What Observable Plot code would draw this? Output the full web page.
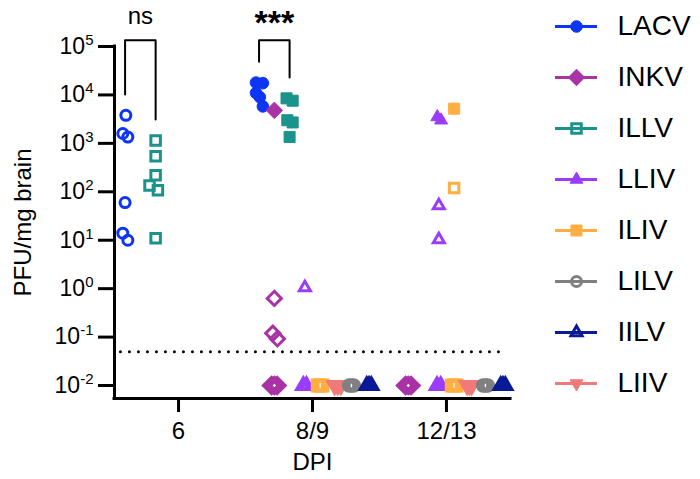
<!DOCTYPE html>
<html><head><meta charset="utf-8">
<script src="https://cdn.jsdelivr.net/npm/d3@7"></script>
<script src="https://cdn.jsdelivr.net/npm/@observablehq/plot@0.6"></script>
<style>
body{margin:0;background:#fff;}
#wrap{position:relative;width:700px;height:479px;background:#fff;}
#main{position:absolute;left:0;top:0;}
#legend{position:absolute;left:540px;top:0;}
</style></head><body><div id="wrap"><div id="main"></div><div id="legend"></div></div>
<script>
// ---------- data ----------
const days = ["6", "8/9", "12/13"];
// order of the data columns inside each day group
const slotOrder = ["LACV", "INKV", "ILLV", "LLIV", "ILIV", "LIIV", "LILV", "IILV"];
const legendOrder = ["LACV", "INKV", "ILLV", "LLIV", "ILIV", "LILV", "IILV", "LIIV"];
const seriesColors = ["#0d35f5", "#a832a6", "#1a938c", "#9a3cfa", "#ffae42", "#f0797a", "#808080", "#0a1a96"]; // slotOrder
const seriesShapes = ["circle", "diamond", "square", "triUp", "square", "triDown", "circle", "triUp"]; // slotOrder
const legendFilled = [true, true, false, true, true, false, false, true]; // legendOrder
const limitOfDetection = 0.05;
const yTickExponents = [-2, -1, 0, 1, 2, 3, 4, 5];
// [day, PFU/mg, filled?, jitter (fraction of a column)]
const LACV = [["6", 3800, 0, 0.05], ["6", 1600, 0, -0.15], ["6", 1350, 0, 0.18], ["6", 60, 0, 0], ["6", 14, 0, -0.15], ["6", 10, 0, 0.18],
  ["8/9", 18000, 1, -0.2], ["8/9", 17500, 1, 0.25], ["8/9", 11000, 1, -0.2], ["8/9", 9000, 1, 0.05], ["8/9", 5800, 1, 0.25]];
const INKV = [["8/9", 4800, 1, 0], ["8/9", 0.63, 0, 0], ["8/9", 0.12, 0, -0.1], ["8/9", 0.092, 0, 0.2],
  ["8/9", 0.01, 0, -0.18], ["8/9", 0.01, 0, 0], ["8/9", 0.01, 0, 0.18],
  ["12/13", 0.01, 0, -0.18], ["12/13", 0.01, 0, 0], ["12/13", 0.01, 0, 0.18]];
const ILLV = [["6", 1150, 0, 0], ["6", 540, 0, 0], ["6", 220, 0, 0], ["6", 135, 0, -0.4], ["6", 108, 0, 0.15], ["6", 11, 0, 0],
  ["8/9", 8500, 1, -0.2], ["8/9", 7600, 1, 0.2], ["8/9", 3000, 1, -0.15], ["8/9", 2700, 1, 0.2], ["8/9", 1350, 1, 0]];
const LLIV = [["8/9", 1.05, 0, 0], ["8/9", 0.01, 0, -0.1], ["8/9", 0.01, 0, 0.1],
  ["12/13", 3500, 1, -0.1], ["12/13", 3000, 1, 0.15], ["12/13", 52, 0, 0], ["12/13", 10.3, 0, 0],
  ["12/13", 0.01, 0, -0.12], ["12/13", 0.01, 0, 0.12]];
const ILIV = [["8/9", 0.01, 0, -0.15], ["8/9", 0.01, 0, 0], ["8/9", 0.01, 0, 0.15],
  ["12/13", 5200, 1, 0], ["12/13", 120, 0, 0], ["12/13", 0.01, 0, -0.15], ["12/13", 0.01, 0, 0], ["12/13", 0.01, 0, 0.15]];
const LIIV = [["8/9", 0.01, 0, -0.05], ["8/9", 0.01, 0, 0.15], ["8/9", 0.01, 0, 0.35],
  ["12/13", 0.01, 0, -0.15], ["12/13", 0.01, 0, 0], ["12/13", 0.01, 0, 0.15]];
const LILV = [["8/9", 0.01, 0, -0.1], ["8/9", 0.01, 0, 0.05], ["8/9", 0.01, 0, 0.2],
  ["12/13", 0.01, 0, -0.1], ["12/13", 0.01, 0, 0.05], ["12/13", 0.01, 0, 0.2]];
const IILV = [["8/9", 0.01, 0, 0.05], ["8/9", 0.01, 0, 0.2], ["8/9", 0.01, 0, 0.35],
  ["12/13", 0.01, 0, 0.05], ["12/13", 0.01, 0, 0.2], ["12/13", 0.01, 0, 0.35]];
const seriesRows = {LACV, INKV, ILLV, LLIV, ILIV, LIIV, LILV, IILV};
const comparisons = [{day: "6", a: "LACV", b: "ILLV", label: "ns"}, {day: "8/9", a: "LACV", b: "ILLV", label: "***"}];

// ---------- layout helpers ----------
const slotW = 0.114;
const xDomain = [-0.478, 2.478];
const yDomain = [Math.pow(10, -2.268), 1e5];
const fontFamily = "'Liberation Sans', Arial, Helvetica, sans-serif";
const colorOf = Object.fromEntries(slotOrder.map((s, i) => [s, seriesColors[i]]));
const shapeOf = Object.fromEntries(slotOrder.map((s, i) => [s, seriesShapes[i]]));
const slotX = (day, s) => days.indexOf(day) + (slotOrder.indexOf(s) - 3.5) * slotW;

function makeSymbol(kind) {
  return {draw(ctx, size) {
    const r = Math.sqrt(size / Math.PI);
    if (kind === "circle") { ctx.moveTo(r, 0); ctx.arc(0, 0, r, 0, 2 * Math.PI); }
    else if (kind === "square") { const h = r * 0.95; ctx.rect(-h, -h, 2 * h, 2 * h); }
    else if (kind === "diamond") { const h = r * 1.42; ctx.moveTo(0, -h); ctx.lineTo(h, 0); ctx.lineTo(0, h); ctx.lineTo(-h, 0); ctx.closePath(); }
    else if (kind === "triUp") { const R = r * 1.28; ctx.moveTo(0, -R); ctx.lineTo(R * 0.866, R / 2); ctx.lineTo(-R * 0.866, R / 2); ctx.closePath(); }
    else if (kind === "triDown") { const R = r * 1.28; ctx.moveTo(0, R); ctx.lineTo(R * 0.866, -R / 2); ctx.lineTo(-R * 0.866, -R / 2); ctx.closePath(); }
  }};
}

const obs = [];
for (const s of slotOrder) {
  for (const [day, v, filled, j] of seriesRows[s]) obs.push({series: s, day, value: v, filled: !!filled, x: slotX(day, s) + j * slotW});
}

const dotMarks = [];
for (const s of slotOrder) {
  const sym = makeSymbol(shapeOf[s]);
  // open markers above the detection limit
  dotMarks.push(Plot.dot(obs.filter(d => d.series === s && !d.filled && d.value >= limitOfDetection), {x: "x", y: "value", symbol: sym, r: 5, fill: "none", stroke: colorOf[s], strokeWidth: 3}));
  // stacked open markers at the floor (below detection limit)
  dotMarks.push(Plot.dot(obs.filter(d => d.series === s && !d.filled && d.value < limitOfDetection), {x: "x", y: "value", symbol: sym, r: 5.2, fill: "none", stroke: colorOf[s], strokeWidth: 4.2}));
  dotMarks.push(Plot.dot(obs.filter(d => d.series === s && d.filled), {x: "x", y: "value", symbol: sym, r: 5.8, fill: colorOf[s], stroke: colorOf[s], strokeWidth: 1}));
}

const bracketTop = yDomain[1] * 1.35;
const maxOf = (day, s) => d3.max(obs.filter(d => d.day === day && d.series === s), d => d.value);
const brackets = comparisons.map(c => ({
  ...c,
  pts: [
    {x: slotX(c.day, c.a), y: maxOf(c.day, c.a) * 2.7},
    {x: slotX(c.day, c.a), y: bracketTop},
    {x: slotX(c.day, c.b), y: bracketTop},
    {x: slotX(c.day, c.b), y: maxOf(c.day, c.b) * 2.7}
  ],
  cx: (slotX(c.day, c.a) + slotX(c.day, c.b)) / 2
}));

const main = Plot.plot({
  width: 700, height: 479,
  marginLeft: 114, marginRight: 190, marginTop: 46, marginBottom: 81,
  x: {domain: xDomain},
  y: {type: "log", domain: yDomain},
  style: {fontFamily, color: "black", background: "transparent", overflow: "visible"},
  marks: [
    Plot.ruleY([limitOfDetection], {x1: -0.43, x2: 2.455, stroke: "black", strokeWidth: 3, strokeDasharray: "0 9", strokeLinecap: "round"}),
    ...dotMarks,
    ...brackets.map(b => Plot.line(b.pts, {x: "x", y: "y", stroke: "black", strokeWidth: 2})),
    Plot.text(brackets.filter(b => b.label === "ns"), {x: "cx", y: () => bracketTop, text: "label", fontSize: 24, dy: -24}),
    Plot.text(brackets.filter(b => b.label !== "ns"), {x: "cx", y: () => bracketTop, text: "label", fontSize: 34, fontWeight: "bold", dy: -17}),
    Plot.ruleX([xDomain[0]], {y1: yDomain[0], y2: yDomain[1], stroke: "black", strokeWidth: 3, strokeLinecap: "square"}),
    Plot.ruleY([yDomain[0]], {x1: xDomain[0], x2: xDomain[1], stroke: "black", strokeWidth: 3, strokeLinecap: "square"}),
    Plot.axisY({ticks: yTickExponents.map(e => Math.pow(10, e)), tickFormat: d => String(Math.round(Math.log10(d))), tickSize: 16, tickPadding: 5, strokeWidth: 3, fontSize: 23, label: null}),
    Plot.axisX({ticks: days.map((d, i) => i), tickFormat: i => days[i], tickSize: 14, tickPadding: 9, strokeWidth: 3, fontSize: 24, label: null}),
    Plot.text(["PFU/mg brain"], {frameAnchor: "left", dx: -91, rotate: -90, textAnchor: "middle", lineAnchor: "middle", fontSize: 24}),
    Plot.text(["DPI"], {frameAnchor: "bottom", dy: 64, textAnchor: "middle", lineAnchor: "middle", fontSize: 24})
  ]
});
d3.select(main).selectAll('g[aria-label="y-axis tick label"] text').each(function () {
  const e = this.textContent;
  const t = d3.select(this);
  t.text(null);
  t.append("tspan").text("10");
  t.append("tspan").attr("dy", -9).attr("font-size", 15).text(e);
});
document.getElementById("main").appendChild(main);

// ---------- legend ----------
const legendMarks = [
  Plot.ruleY(legendOrder, {y: d => d, x1: 15, x2: 57, stroke: d => colorOf[d], strokeWidth: 3})
];
legendOrder.forEach((s, i) => {
  const sym = makeSymbol(shapeOf[s]);
  legendMarks.push(legendFilled[i]
    ? Plot.dot([s], {y: d => d, x: 36, symbol: sym, r: 5.8, fill: colorOf[s], stroke: colorOf[s], strokeWidth: 1})
    : Plot.dot([s], {y: d => d, x: 36, symbol: sym, r: 5, fill: "none", stroke: colorOf[s], strokeWidth: 3}));
});
legendMarks.push(Plot.text(legendOrder, {y: d => d, x: 77, text: d => d, textAnchor: "start", fontSize: 28}));
const legend = Plot.plot({
  width: 160, height: 479, marginLeft: 0, marginRight: 0, marginTop: 25, marginBottom: 96,
  x: {domain: [0, 160], axis: null},
  y: {type: "point", domain: legendOrder, padding: 0, axis: null},
  color: {type: "identity"},
  style: {fontFamily, color: "black", background: "transparent", overflow: "visible"},
  marks: legendMarks
});
document.getElementById("legend").appendChild(legend);
</script></body></html>
